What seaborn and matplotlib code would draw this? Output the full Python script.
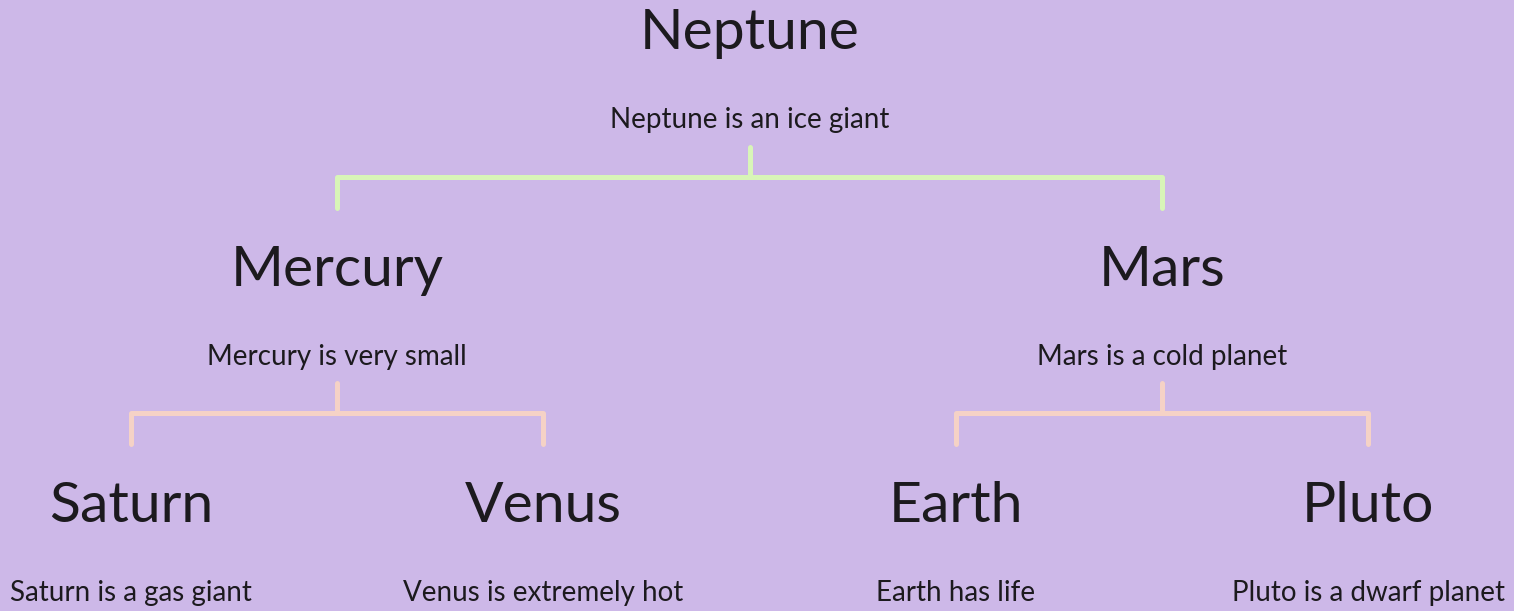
import pandas as pd
import numpy as np
import matplotlib.pyplot as plt
import seaborn as sns

# Tree data
names = ['Neptune', 'Mercury', 'Mars', 'Saturn', 'Venus', 'Earth', 'Pluto']
descriptions = ['Neptune is an ice giant', 'Mercury is very small', 'Mars is a cold planet',
                'Saturn is a gas giant', 'Venus is extremely hot', 'Earth has life',
                'Pluto is a dwarf planet']
parents = [None, 'Neptune', 'Neptune', 'Mercury', 'Mercury', 'Mars', 'Mars']
levels = [0, 1, 1, 2, 2, 2, 2]

BG = '#cdb8e8'
TEXT = '#1c1a1e'
LINK_COLORS = {0: '#d8f5b8', 1: '#f5d2c6'}

sns.set_theme(style='white')
plt.rcParams['font.family'] = ['Lato', 'DejaVu Sans']

# simple layout: leaves evenly spaced, parents centred over children
df = pd.DataFrame({'name': names, 'desc': descriptions, 'parent': parents, 'level': levels})
leaves = [n for n in names if n not in parents]
xpos = {n: i for i, n in enumerate(leaves)}
for lvl in sorted(set(levels), reverse=True):
    for n in df.loc[df['level'] == lvl, 'name']:
        if n not in xpos:
            kids = df.loc[df['parent'] == n, 'name']
            xpos[n] = np.mean([xpos[k] for k in kids])
df['x'] = df['name'].map(xpos)
df['y'] = df['level'].astype(float)

# bracket segments from each parent to its children
seg_rows = []
seg_id = 0
for _, p in df.iterrows():
    kids = df[df['parent'] == p['name']]
    if kids.empty:
        continue
    y0 = p['y'] + 0.486
    ym = p['y'] + 0.613
    y1 = p['y'] + 0.744
    pts = [(p['x'], y0), (p['x'], ym)]
    seg_rows += [dict(seg=seg_id, x=a, y=b, level=p['level'], order=i) for i, (a, b) in enumerate(pts)]
    seg_id += 1
    xs = sorted(kids['x'])
    pts = [(xs[0], y1), (xs[0], ym), (xs[-1], ym), (xs[-1], y1)]
    seg_rows += [dict(seg=seg_id, x=a, y=b, level=p['level'], order=i) for i, (a, b) in enumerate(pts)]
    seg_id += 1
segs = pd.DataFrame(seg_rows)

fig = plt.figure(figsize=(15.14, 6.11), dpi=100, facecolor=BG)
ax = fig.add_axes([0, 0, 1, 1])
ax.set_facecolor(BG)

sns.lineplot(data=segs, x='x', y='y', units='seg', estimator=None, sort=False,
             hue='level', palette=LINK_COLORS, linewidth=3.6, legend=False, ax=ax)

for _, r in df.iterrows():
    ax.text(r['x'], r['y'] + 0.008, r['name'], ha='center', va='center', fontsize=41,
            color=TEXT, family=['Lato', 'DejaVu Sans'])
    ax.text(r['x'], r['y'] + 0.373, r['desc'], ha='center', va='center', fontsize=20,
            color=TEXT, family=['Lato', 'DejaVu Sans'])

ax.set_xlim(-0.318, 3.354)
ax.set_ylim(2.448, -0.135)
ax.axis('off')

fig.savefig('out.png', dpi=100, facecolor=BG)
